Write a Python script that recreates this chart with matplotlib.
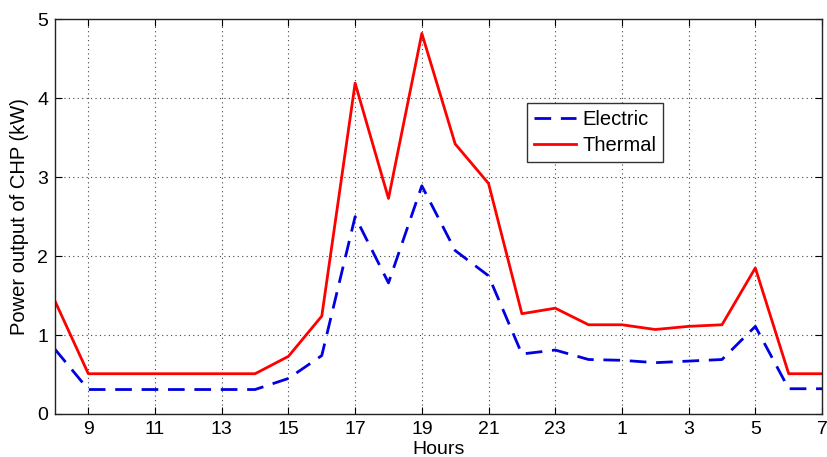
import matplotlib
matplotlib.use("Agg")
import matplotlib.pyplot as plt

hours = list(range(8, 32))
tick_pos = [9, 11, 13, 15, 17, 19, 21, 23, 25, 27, 29, 31]
tick_labels = ["9", "11", "13", "15", "17", "19", "21", "23", "1", "3", "5", "7"]

electric = [0.82, 0.31, 0.31, 0.31, 0.31, 0.31, 0.31, 0.45, 0.74, 2.50, 1.66, 2.89,
            2.07, 1.75, 0.76, 0.81, 0.69, 0.68, 0.65, 0.67, 0.69, 1.11, 0.32, 0.32]
thermal = [1.43, 0.51, 0.51, 0.51, 0.51, 0.51, 0.51, 0.73, 1.24, 4.19, 2.73, 4.82,
           3.42, 2.92, 1.27, 1.34, 1.13, 1.13, 1.07, 1.11, 1.13, 1.85, 0.51, 0.51]

plt.rcParams['font.family'] = ['Liberation Sans', 'DejaVu Sans']

fig = plt.figure(figsize=(8.28, 4.57), dpi=100)
ax = fig.add_axes([0.0664, 0.0941, 0.9264, 0.8639])

ax.plot(hours, electric, color='#0000e0', linestyle=(0, (6, 3.5)), linewidth=2.0, label='Electric')
ax.plot(hours, thermal, color='#ff0000', linestyle='-', linewidth=2.0, label='Thermal')

ax.set_xlim(8, 31)
ax.set_ylim(0, 5)
ax.set_xticks(tick_pos)
ax.set_xticklabels(tick_labels)
ax.set_yticks([0, 1, 2, 3, 4, 5])
ax.tick_params(direction='in', top=True, right=True, labelsize=14, length=5, pad=5)
ax.grid(True, color='#444444', linestyle=(0, (1, 3)), linewidth=0.8)
for s in ax.spines.values():
    s.set_linewidth(1.0)
    s.set_color('#222222')

ax.set_xlabel('Hours', fontsize=14, labelpad=2)
ax.set_ylabel('Power output of CHP (kW)', fontsize=14.5, labelpad=6)

leg = ax.legend(loc='upper left', bbox_to_anchor=(0.615, 0.787), fontsize=14.5,
                borderaxespad=0,
                frameon=True, fancybox=False, edgecolor='#333333', framealpha=1,
                handlelength=2.1, borderpad=0.35, labelspacing=0.35, handletextpad=0.3)
leg.get_frame().set_linewidth(1.0)

fig.savefig('out.png', dpi=100)
